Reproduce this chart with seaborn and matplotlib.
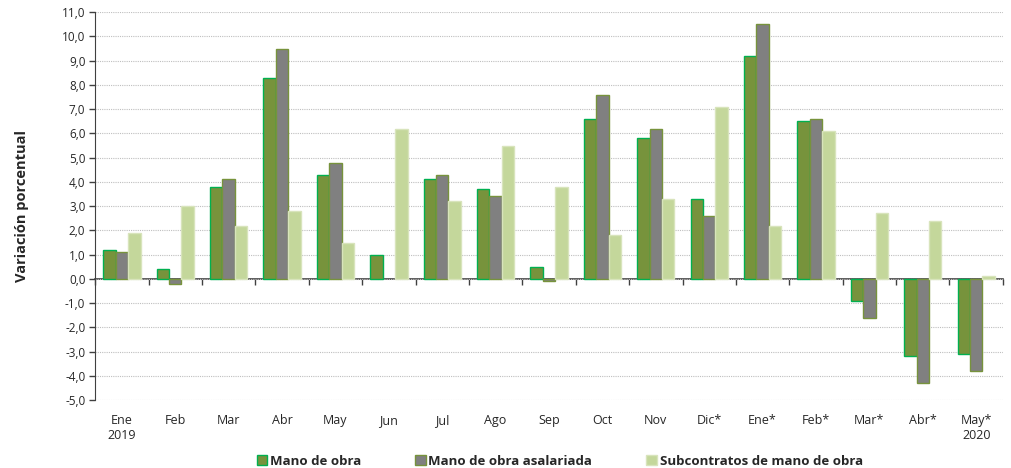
import pandas as pd
import numpy as np
import matplotlib.pyplot as plt
import seaborn as sns

meses = ['Ene\n2019', 'Feb', 'Mar', 'Abr', 'May', 'Jun', 'Jul', 'Ago', 'Sep', 'Oct',
         'Nov', 'Dic*', 'Ene*', 'Feb*', 'Mar*', 'Abr*', 'May*\n2020']
mano_obra = [1.2, 0.4, 3.8, 8.3, 4.3, 1.0, 4.1, 3.7, 0.5, 6.6, 5.8, 3.3, 9.2, 6.5, -0.9, -3.2, -3.1]
asalariada = [1.1, -0.2, 4.1, 9.5, 4.8, 0.0, 4.3, 3.4, -0.1, 7.6, 6.2, 2.6, 10.5, 6.6, -1.6, -4.3, -3.8]
subcontratos = [1.9, 3.0, 2.2, 2.8, 1.5, 6.2, 3.2, 5.5, 3.8, 1.8, 3.3, 7.1, 2.2, 6.1, 2.7, 2.4, 0.1]

series = ['Mano de obra', 'Mano de obra asalariada', 'Subcontratos de mano de obra']
colores = ['#77933C', '#808080', '#C4D79B']
bordes = ['#00B050', '#77933C', '#D8E4BC']

df = pd.DataFrame({'mes': meses * 3,
                   'serie': np.repeat(series, len(meses)),
                   'valor': mano_obra + asalariada + subcontratos})

sns.set_style('white')
plt.rcParams['font.family'] = ['Open Sans', 'DejaVu Sans']

fig = plt.figure(figsize=(10.12, 4.68), dpi=100)
ax = fig.add_axes([0.094, 0.145, 0.897, 0.829])

sns.barplot(data=df, x='mes', y='valor', hue='serie', palette=colores,
            width=0.7, gap=0, ax=ax, legend=False, saturation=1)

for cont, borde in zip(ax.containers, bordes):
    for bar in cont:
        bar.set_edgecolor(borde)
        bar.set_linewidth(1 if bar.get_height() != 0 else 0)

ax.set_ylim(-5, 11)
ax.set_xlim(-0.5, len(meses) - 0.5)
ax.set_yticks(np.arange(-5, 11.1, 1))
ax.set_yticklabels([f'{v:.1f}'.replace('.', ',') for v in np.arange(-5, 11.1, 1)], fontsize=8.5)
ax.yaxis.grid(True, color='#BFBFBF', linestyle=(0, (1, 1)), linewidth=0.8)
ax.set_axisbelow(True)
ax.tick_params(axis='y', length=4, width=1, color='#404040', pad=3, left=True)
ax.tick_params(axis='x', length=0, pad=10, labelsize=9)

for s in ['top', 'right', 'bottom']:
    ax.spines[s].set_visible(False)
ax.spines['left'].set_color('#404040')

# eje en cero con marcas entre meses
ax0 = ax.secondary_xaxis(5 / 16)
ax0.set_xticks(np.arange(-0.5, len(meses), 1))
ax0.set_xticklabels([])
ax0.tick_params(length=4, width=1, color='#404040', direction='out')
ax0.spines['bottom'].set_color('#404040')
ax0.spines['bottom'].set_linewidth(1.2)

ax.set_xlabel('')
ax.set_ylabel('Variación porcentual', fontsize=10.5, fontweight='bold', labelpad=24)

handles = [plt.Rectangle((0, 0), 1, 1, facecolor=c, edgecolor=b, linewidth=1)
           for c, b in zip(colores, bordes)]
fig.legend(handles, series, loc='lower center', ncol=3, frameon=False,
           bbox_to_anchor=(0.553, -0.025), prop={'weight': 'bold', 'size': 9.5},
           handlelength=0.8, handleheight=0.8, handletextpad=0.2, columnspacing=4.1)

fig.savefig('out.png', dpi=100)
